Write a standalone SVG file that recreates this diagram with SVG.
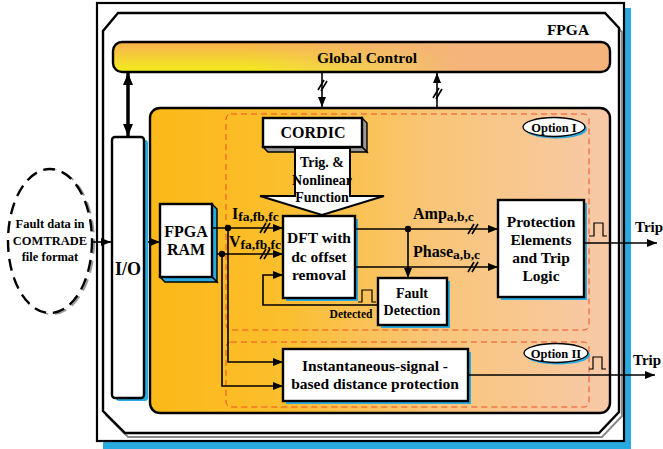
<svg xmlns="http://www.w3.org/2000/svg" width="663" height="449" viewBox="0 0 663 449">
<defs>
<style>
.t{font-family:"Liberation Serif","Times New Roman",serif;font-weight:bold;fill:#000;text-anchor:middle}
.ts{text-anchor:start}
.ln{stroke:#000;stroke-width:1.6;fill:none}
.bx{fill:#fff;stroke:#000;stroke-width:2.4}
.sh{fill:#29abe2}
.dash{fill:none;stroke:#f04e23;stroke-width:1;stroke-dasharray:6 4}
.pulse{fill:none;stroke:#000;stroke-width:1.2}
</style>
<linearGradient id="gcV" x1="0" y1="0" x2="0" y2="1">
<stop offset="0" stop-color="#f7b04e"/>
<stop offset="1" stop-color="#f2ee1e"/>
</linearGradient>
<linearGradient id="gcH" gradientUnits="userSpaceOnUse" x1="250" y1="0" x2="460" y2="0">
<stop offset="0" stop-color="#f4b47c" stop-opacity="0"/>
<stop offset="1" stop-color="#f4b47c" stop-opacity="1"/>
</linearGradient>
<linearGradient id="og" gradientUnits="userSpaceOnUse" x1="150" y1="0" x2="610" y2="0">
<stop offset="0" stop-color="#fbb918"/>
<stop offset="0.28" stop-color="#fbbe2c"/>
<stop offset="0.6" stop-color="#f9c576"/>
<stop offset="1" stop-color="#f7c9a8"/>
</linearGradient>
<marker id="ah" viewBox="0 0 10 8" refX="10" refY="4" markerWidth="10" markerHeight="8" markerUnits="userSpaceOnUse" orient="auto">
<path d="M0,0 L10,4 L0,8 z" fill="#000"/>
</marker>
<marker id="ahb" viewBox="0 0 12 10" refX="12" refY="5" markerWidth="12" markerHeight="10" markerUnits="userSpaceOnUse" orient="auto-start-reverse">
<path d="M0,0 L12,5 L0,10 z" fill="#000"/>
</marker>
</defs>

<g id="fpga-frame">
<rect x="103" y="8" width="528" height="441" class="sh"/>
<rect x="97" y="3" width="527" height="438" fill="#fff" stroke="#000" stroke-width="2.2"/>
<polygon points="121,17 608,17 622,32 622,416 602,437 128,437 106,415 106,35" fill="none" stroke="#8a8a8a" stroke-width="2"/>
<polygon points="118,13 605,13 619,28 619,412 599,433 125,433 103,411 103,31" fill="#fff" stroke="#000" stroke-width="2.4"/>
<text x="568" y="35" class="t" font-size="15.5">FPGA</text>
</g>

<g id="global-control">
<rect x="113" y="42" width="497" height="30" rx="9" fill="url(#gcV)"/>
<rect x="113" y="42" width="497" height="30" rx="9" fill="url(#gcH)" stroke="#000" stroke-width="2.4"/>
<text x="367" y="63" class="t" font-size="15.5">Global Control</text>
</g>

<g id="processing-area">
<rect x="150" y="108" width="460" height="305" rx="10" fill="url(#og)" stroke="#000" stroke-width="2.4"/>
<rect x="226" y="114" width="363" height="216" rx="5" class="dash"/>
<rect x="226" y="342" width="363" height="65" rx="5" class="dash"/>
</g>

<g id="option-1">
<ellipse cx="556" cy="129" rx="31" ry="9.5" class="sh"/>
<ellipse cx="554" cy="127" rx="31" ry="9.5" fill="#fff" stroke="#000" stroke-width="1.3"/>
<text x="554" y="131.5" class="t" font-size="12.5">Option I</text>
</g>

<g id="option-2">
<ellipse cx="558" cy="355" rx="32" ry="9.5" class="sh"/>
<ellipse cx="556" cy="353" rx="32" ry="9.5" fill="#fff" stroke="#000" stroke-width="1.3"/>
<text x="556" y="357.5" class="t" font-size="12.5">Option II</text>
</g>

<g id="fault-data">
<ellipse cx="52" cy="242" rx="42" ry="72" fill="none" stroke="#9a9a9a" stroke-width="2" stroke-dasharray="12 7"/>
<ellipse cx="50" cy="241" rx="42" ry="72" fill="#fff" stroke="#000" stroke-width="2.4" stroke-dasharray="12 7"/>
<text x="50" y="228" class="t" font-size="12.5">Fault data in</text>
<text x="50" y="245" class="t" font-size="12.5">COMTRADE</text>
<text x="50" y="261" class="t" font-size="12.5">file format</text>
</g>

<g id="io">
<rect x="116" y="140" width="32" height="261" rx="3" class="sh"/>
<rect x="112" y="137" width="32" height="261" rx="3" class="bx"/>
<text x="128" y="275" class="t" font-size="18">I/O</text>
</g>

<g id="fpga-ram">
<polygon points="212,204 217,209 217,282 212,277" fill="#29abe2" stroke="#000" stroke-width="1.4"/>
<polygon points="160,277 212,277 217,282 165,282" fill="#29abe2" stroke="#000" stroke-width="1.4"/>
<rect x="160" y="204" width="52" height="73" class="bx"/>
<text x="186" y="237" class="t" font-size="16">FPGA</text>
<text x="186" y="255" class="t" font-size="16">RAM</text>
</g>

<g id="cordic">
<polygon points="362,118 367,123 367,152 362,147" fill="#9a9a9a" stroke="#000" stroke-width="1.4"/>
<polygon points="263,147 362,147 367,152 268,152" fill="#9a9a9a" stroke="#000" stroke-width="1.4"/>
<rect x="263" y="118" width="99" height="29" class="bx"/>
<text x="313" y="138" class="t" font-size="16">CORDIC</text>
</g>

<g id="trig-arrow">
<polygon points="295,148 350,148 350,196 384,196 322,215 260,196 295,196" fill="#fff" stroke="#000" stroke-width="2"/>
<text x="322" y="167" class="t" font-size="14">Trig. &amp;</text>
<text x="322" y="185" class="t" font-size="14">Nonlinear</text>
<text x="322" y="202" class="t" font-size="14">Function</text>
</g>

<g id="dft">
<rect x="286" y="219" width="72" height="82" class="sh"/>
<rect x="283" y="216" width="72" height="82" class="bx"/>
<text x="319" y="243" class="t" font-size="15.5">DFT with</text>
<text x="319" y="262" class="t" font-size="15.5">dc offset</text>
<text x="319" y="280" class="t" font-size="15.5">removal</text>
</g>

<g id="fault-detection">
<rect x="381" y="281" width="69" height="47" class="sh"/>
<rect x="378" y="278" width="69" height="47" class="bx"/>
<text x="412" y="298" class="t" font-size="14">Fault</text>
<text x="412" y="315" class="t" font-size="14">Detection</text>
</g>

<g id="protection">
<rect x="501" y="203" width="86" height="97" class="sh"/>
<rect x="498" y="200" width="86" height="97" class="bx"/>
<text x="541" y="227" class="t" font-size="15.5">Protection</text>
<text x="541" y="245" class="t" font-size="15.5">Elements</text>
<text x="541" y="263" class="t" font-size="15.5">and Trip</text>
<text x="541" y="281" class="t" font-size="15.5">Logic</text>
</g>

<g id="instantaneous">
<rect x="286" y="352" width="185" height="52" class="sh"/>
<rect x="283" y="349" width="185" height="52" class="bx"/>
<text x="375" y="371" class="t" font-size="15.5">Instantaneous-signal -</text>
<text x="375" y="389" class="t" font-size="15.5">based distance protection</text>
</g>

<g id="connectors">
<line x1="128" y1="73" x2="128" y2="136" stroke="#000" stroke-width="3.5" marker-start="url(#ahb)" marker-end="url(#ahb)"/>
<line x1="322" y1="73" x2="322" y2="107" class="ln" marker-end="url(#ah)"/>
<path d="M318,90 L324,80 M321,91 L327,81" class="ln" stroke-width="1.2"/>
<line x1="437" y1="107" x2="437" y2="73" class="ln" marker-end="url(#ah)"/>
<path d="M433,98 L439,88 M436,99 L442,89" class="ln" stroke-width="1.2"/>
<line x1="92" y1="242" x2="111" y2="242" class="ln" marker-end="url(#ah)"/>
<line x1="148" y1="242" x2="160" y2="242" class="ln" marker-end="url(#ah)"/>
<line x1="212" y1="228" x2="283" y2="228" class="ln" marker-end="url(#ah)"/>
<line x1="217" y1="254" x2="283" y2="254" class="ln" marker-end="url(#ah)"/>
<path d="M260,233 L266,223 M264,233 L270,223" class="ln" stroke-width="1.2"/>
<path d="M260,259 L266,249 M264,259 L270,249" class="ln" stroke-width="1.2"/>
<circle cx="228" cy="228" r="3.2" fill="#000"/>
<circle cx="222" cy="254" r="3.2" fill="#000"/>
<polyline points="228,228 228,362 283,362" class="ln" marker-end="url(#ah)"/>
<polyline points="222,254 222,386 283,386" class="ln" marker-end="url(#ah)"/>
<line x1="355" y1="229" x2="498" y2="229" class="ln" marker-end="url(#ah)"/>
<line x1="355" y1="267" x2="498" y2="267" class="ln" marker-end="url(#ah)"/>
<path d="M468,234 L474,224 M472,234 L478,224" class="ln" stroke-width="1.2"/>
<path d="M468,272 L474,262 M472,272 L478,262" class="ln" stroke-width="1.2"/>
<circle cx="408" cy="229" r="3.2" fill="#000"/>
<line x1="408" y1="229" x2="408" y2="278" class="ln" marker-end="url(#ah)"/>
<polyline points="378,305 263,305 263,275 283,275" class="ln" marker-end="url(#ah)"/>
<polyline points="358,302 362,302 362,290 372,290 372,302 376,302" class="pulse"/>
<text x="351" y="318" class="t" font-size="11.5">Detected</text>
<line x1="584" y1="243" x2="657" y2="243" class="ln" marker-end="url(#ah)"/>
<polyline points="589,236 594,236 594,223 603,223 603,236 607,236" class="pulse"/>
<text x="635" y="232" class="t ts" font-size="15">Trip</text>
<line x1="468" y1="375" x2="655" y2="375" class="ln" marker-end="url(#ah)"/>
<polyline points="589,369 593,369 593,357 602,357 602,369 606,369" class="pulse"/>
<text x="633" y="365" class="t ts" font-size="15">Trip</text>
<text x="232" y="219" class="t ts" font-size="16">I<tspan font-size="13.5" dy="2">fa,fb,fc</tspan></text>
<text x="229" y="247" class="t ts" font-size="16">V<tspan font-size="13.5" dy="2">fa,fb,fc</tspan></text>
<text x="413" y="219" class="t ts" font-size="16">Amp<tspan font-size="13.5" dy="2">a,b,c</tspan></text>
<text x="413" y="257" class="t ts" font-size="16">Phase<tspan font-size="13.5" dy="2">a,b,c</tspan></text>
</g>
</svg>
